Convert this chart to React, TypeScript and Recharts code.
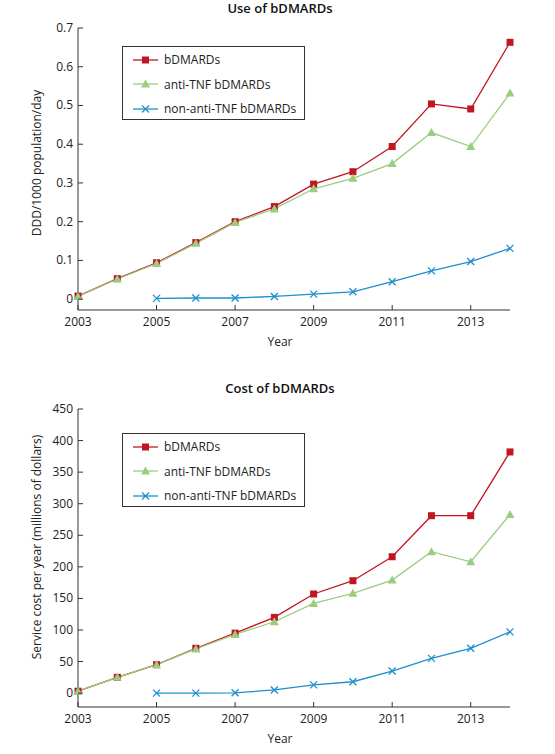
import React from "react"
import { Legend, Line, LineChart, XAxis, YAxis } from "recharts"

// Two stacked line charts: use (DDD/1000/day) and cost (millions) of bDMARDs, 2003–2014.
const years = [2003, 2004, 2005, 2006, 2007, 2008, 2009, 2010, 2011, 2012, 2013, 2014]
const yearTicks = [2003, 2005, 2007, 2009, 2011, 2013]

const useAll = [0.008, 0.053, 0.094, 0.146, 0.2, 0.239, 0.297, 0.329, 0.394, 0.504, 0.491, 0.663]
const useAntiTnf = [0.007, 0.052, 0.092, 0.144, 0.198, 0.233, 0.285, 0.312, 0.35, 0.43, 0.394, 0.532]
const useNonAntiTnf = [null, null, 0.002, 0.003, 0.003, 0.007, 0.013, 0.019, 0.045, 0.073, 0.097, 0.131]
const useTicks = [0, 0.1, 0.2, 0.3, 0.4, 0.5, 0.6, 0.7]

const costAll = [3, 25, 45, 71, 95, 120, 157, 178, 216, 281, 281, 382]
const costAntiTnf = [3, 25, 45, 70, 93, 113, 142, 158, 179, 224, 208, 283]
const costNonAntiTnf = [null, null, 0, 0, 0.5, 5, 13, 18, 35, 55, 71, 97]
const costTicks = [0, 50, 100, 150, 200, 250, 300, 350, 400, 450]

const seriesNames = ["bDMARDs", "anti-TNF bDMARDs", "non-anti-TNF bDMARDs"]

const RED = "#c0161f"
const GREEN = "#9acd80"
const BLUE = "#1e8fce"
const AXIS = "#333"
const TEXT = "#222"
const FONT = "'Open Sans', sans-serif"

const useData = years.map((year, i) => ({ year, all: useAll[i], anti: useAntiTnf[i], non: useNonAntiTnf[i] }))
const costData = years.map((year, i) => ({ year, all: costAll[i], anti: costAntiTnf[i], non: costNonAntiTnf[i] }))

function Marker({ kind, cx, cy, color }: { kind: string; cx: number; cy: number; color: string }) {
  if (kind === "square") return <rect x={cx - 3.5} y={cy - 3.5} width={7} height={7} fill={color} />
  if (kind === "triangle")
    return <polygon points={`${cx},${cy - 4.5} ${cx + 4.5},${cy + 3.5} ${cx - 4.5},${cy + 3.5}`} fill={color} />
  return (
    <g stroke={color} strokeWidth={1.3}>
      <line x1={cx - 3.5} y1={cy - 3.5} x2={cx + 3.5} y2={cy + 3.5} />
      <line x1={cx - 3.5} y1={cy + 3.5} x2={cx + 3.5} y2={cy - 3.5} />
    </g>
  )
}

const dot = (kind: string, color: string) => (props: any) => {
  const { cx, cy, value, index } = props
  if (value == null || cy == null) return <g key={index} />
  return <Marker key={index} kind={kind} cx={cx} cy={cy} color={color} />
}

function XTick({ x, y, payload }: any) {
  return (
    <g>
      <line x1={x} x2={x} y1={y} y2={y - 5} stroke={AXIS} />
      <text x={x} y={y + 16} textAnchor="middle" fontSize={12} fill={TEXT} fontFamily={FONT}>
        {payload.value}
      </text>
    </g>
  )
}

function YTick({ x, y, payload }: any) {
  return (
    <g>
      <line x1={x} x2={x + 5} y1={y} y2={y} stroke={AXIS} />
      <text x={x - 5} y={y + 4} textAnchor="end" fontSize={12} fill={TEXT} fontFamily={FONT}>
        {String(payload.value)}
      </text>
    </g>
  )
}

const legendRows = [
  { kind: "square", color: RED },
  { kind: "triangle", color: GREEN },
  { kind: "x", color: BLUE },
]

function LegendBox() {
  return (
    <div
      style={{
        width: 181,
        height: 72,
        border: `1px solid ${AXIS}`,
        background: "#fff",
        fontFamily: FONT,
        fontSize: 12,
        color: TEXT,
        position: "relative",
      }}
    >
      {legendRows.map((row, i) => (
        <div key={i} style={{ position: "absolute", left: 9, top: 4 + i * 24.7, height: 17, display: "flex", alignItems: "center" }}>
          <svg width={28} height={12} style={{ marginRight: 4 }}>
            <line x1={1} x2={26} y1={6} y2={6} stroke={row.color} strokeWidth={1.3} />
            <Marker kind={row.kind} cx={13.5} cy={6} color={row.color} />
          </svg>
          <span style={{ whiteSpace: "nowrap" }}>{seriesNames[i]}</span>
        </div>
      ))}
    </div>
  )
}

type PanelProps = {
  data: any[]
  top: number
  height: number
  marginTop: number
  marginBottom: number
  domain: [number, number]
  ticks: number[]
  title: string
  yLabel: string
  titleY: number
  yLabelCenter: number
  xLabelY: number
  legendTop: number
}

function Panel(p: PanelProps) {
  return (
    <div style={{ position: "absolute", left: 0, top: p.top, width: 555, height: p.height }}>
      <LineChart
        width={555}
        height={p.height}
        data={p.data}
        margin={{ top: p.marginTop, right: 45, bottom: p.marginBottom - 1, left: 77 }}
      >
        <XAxis
          dataKey="year"
          type="number"
          domain={[2003, 2014]}
          ticks={yearTicks}
          height={1}
          tickSize={0}
          tickMargin={0}
          tickLine={false}
          tick={<XTick />}
          axisLine={{ stroke: AXIS }}
          interval={0}
        />
        <YAxis
          type="number"
          domain={p.domain}
          ticks={p.ticks}
          width={1}
          tickSize={0}
          tickMargin={0}
          tickLine={false}
          tick={<YTick />}
          axisLine={{ stroke: AXIS }}
          interval={0}
          allowDataOverflow
        />
        <Legend
          layout="horizontal"
          verticalAlign="middle"
          align="center"
          content={() => <LegendBox />}
          wrapperStyle={{ left: 122, top: p.legendTop, width: 183, height: 74 }}
        />
        <Line dataKey="all" stroke={RED} strokeWidth={1.3} dot={dot("square", RED)} activeDot={false} isAnimationActive={false} />
        <Line dataKey="anti" stroke={GREEN} strokeWidth={1.3} dot={dot("triangle", GREEN)} activeDot={false} isAnimationActive={false} />
        <Line dataKey="non" stroke={BLUE} strokeWidth={1.3} dot={dot("x", BLUE)} activeDot={false} isAnimationActive={false} />
      </LineChart>
      <div
        style={{
          position: "absolute",
          left: 280,
          top: p.titleY,
          transform: "translate(-50%, -50%)",
          fontFamily: FONT,
          fontSize: 13,
          fontWeight: 600,
          color: "#111",
          whiteSpace: "nowrap",
        }}
      >
        {p.title}
      </div>
      <div
        style={{
          position: "absolute",
          left: 35.5,
          top: p.yLabelCenter,
          transform: "translate(-50%, -50%) rotate(-90deg)",
          fontFamily: FONT,
          fontSize: 12,
          color: TEXT,
          whiteSpace: "nowrap",
        }}
      >
        {p.yLabel}
      </div>
      <div
        style={{
          position: "absolute",
          left: 280,
          top: p.xLabelY,
          transform: "translate(-50%, -50%)",
          fontFamily: FONT,
          fontSize: 12,
          color: TEXT,
          whiteSpace: "nowrap",
        }}
      >
        Year
      </div>
    </div>
  )
}

export default function App() {
  return (
    <div style={{ position: "absolute", left: 0, top: 0, width: 555, height: 754, background: "#fff" }}>
      <Panel
        data={useData}
        top={0}
        height={365}
        marginTop={28}
        marginBottom={55}
        domain={[-0.028, 0.7]}
        ticks={useTicks}
        title="Use of bDMARDs"
        yLabel="DDD/1000 population/day"
        titleY={8}
        yLabelCenter={163}
        xLabelY={341}
        legendTop={46}
      />
      <Panel
        data={costData}
        top={370}
        height={384}
        marginTop={39}
        marginBottom={47}
        domain={[-22, 450]}
        ticks={costTicks}
        title="Cost of bDMARDs"
        yLabel="Service cost per year (millions of dollars)"
        titleY={17.5}
        yLabelCenter={176.7}
        xLabelY={368}
        legendTop={63}
      />
    </div>
  )
}
